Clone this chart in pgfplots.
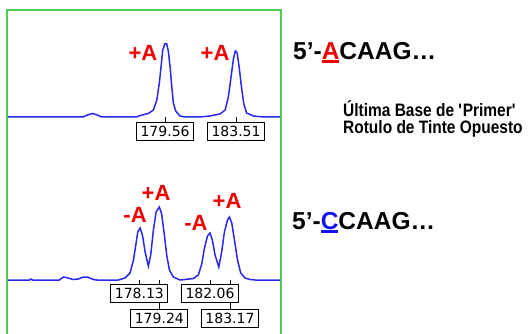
\documentclass[border=0pt]{standalone}
\usepackage{fontspec}
\setmainfont{Liberation Sans}
\newfontfamily\numfont{DejaVu Sans}
\newfontfamily\narrowfont{Liberation Sans}[FakeStretch=0.86]
\usepackage{pgfplots}
\pgfplotsset{compat=1.18}
\definecolor{trace}{RGB}{40,40,240}
\definecolor{framegreen}{RGB}{80,205,80}
\definecolor{lblred}{RGB}{240,0,0}
\definecolor{ulblue}{RGB}{20,20,235}
\newcommand\ulc[2]{\setbox0\hbox{\textcolor{#1}{#2}}\rlap{\textcolor{#1}{\rule[-3.4bp]{\wd0}{2.4bp}}}\box0}
\pgfplotsset{traceaxis/.style={width=273bp, height=80bp, scale only axis,
  xmin=170.82, xmax=186.01, ymin=0, ymax=80, axis lines=none, clip=false, anchor=south west}}
\tikzset{lblbox/.style={draw, line width=0.8bp, fill=white, font=\numfont\fontsize{14bp}{14bp}\selectfont,
  inner xsep=4bp, inner ysep=0pt, minimum height=18bp, anchor=north},
  plus/.style={text=lblred, font=\bfseries\fontsize{22bp}{22bp}\selectfont, inner sep=0pt}}
\begin{document}
\begin{tikzpicture}[x=1bp,y=1bp]
\useasboundingbox (0,0) rectangle (528,333);
\fill[white] (0,0) rectangle (528,333);
% top trace
\begin{axis}[traceaxis, at={(8bp,216bp)}]
\draw (axis cs:179.56,0) -- (axis cs:179.56,-5);
\draw (axis cs:183.51,0) -- (axis cs:183.51,-5);
\addplot[trace, line width=1.5bp, mark=none] coordinates {
(170.82,0) (175.01,0) (175.24,2) (175.53,3.5) (175.79,2) (176.03,0) (177.98,0)
(178.17,1.5) (178.63,3.5) (178.91,7) (179.10,17) (179.24,34) (179.34,51) (179.43,67)
(179.54,73) (179.65,73) (179.74,66) (179.84,50) (179.93,31) (180.02,14) (180.15,6)
(180.39,1) (180.67,0) (181.50,0) (182.06,1) (182.62,3) (182.90,7) (183.08,20)
(183.23,40) (183.36,58) (183.47,66) (183.57,64) (183.68,50) (183.81,30) (183.94,13)
(184.10,4) (184.48,1) (185.03,0) (186.01,0)};
\node[lblbox] at (axis cs:179.56,-5) {179.56};
\node[lblbox] at (axis cs:183.51,-5) {183.51};
\node[plus] at (axis cs:178.33,63.7) {+A};
\node[plus] at (axis cs:182.34,63.7) {+A};
\end{axis}
% bottom trace
\begin{axis}[traceaxis, at={(8bp,53bp)}]
\draw (axis cs:178.13,0) -- (axis cs:178.13,-4);
\draw (axis cs:182.06,0) -- (axis cs:182.06,-4);
\draw (axis cs:179.24,0) -- (axis cs:179.24,-29);
\draw (axis cs:183.17,0) -- (axis cs:183.17,-29);
\addplot[trace, line width=1.5bp, mark=none] coordinates {
(170.82,0) (172.01,0) (172.10,1) (172.19,0) (173.68,0) (173.90,3) (174.18,2)
(174.42,0.5) (174.73,1) (175.01,3) (175.24,3) (175.57,0.5) (175.76,0) (176.96,0)
(177.33,2) (177.61,7) (177.80,20) (177.93,35) (178.04,48) (178.17,52) (178.30,45)
(178.45,28) (178.63,14) (178.76,25) (178.91,50) (179.06,68) (179.24,73) (179.37,66)
(179.52,45) (179.65,25) (179.80,10) (180.02,3) (180.39,0) (181.14,1.5) (181.41,5)
(181.60,16) (181.75,32) (181.92,44) (182.06,47) (182.19,40) (182.34,25) (182.55,13)
(182.71,28) (182.86,48) (183.03,60) (183.14,63) (183.27,57) (183.42,40) (183.59,20)
(183.77,7) (184.01,2) (184.29,0.5) (184.57,0) (186.01,0)};
\node[lblbox] at (axis cs:178.13,-4) {178.13};
\node[lblbox] at (axis cs:182.06,-4) {182.06};
\node[lblbox] at (axis cs:179.24,-29) {179.24};
\node[lblbox] at (axis cs:183.17,-29) {183.17};
\node[plus] at (axis cs:177.89,65) {-A};
\node[plus] at (axis cs:179.06,87) {+A};
\node[plus] at (axis cs:181.28,57.3) {-A};
\node[plus] at (axis cs:183.01,79.3) {+A};
\end{axis}
\draw[framegreen, line width=2bp] (7,-5) -- (7,323) -- (281,323) -- (281,-5);
\node[anchor=base west, inner sep=0pt, font=\bfseries\fontsize{24.5bp}{24.5bp}\selectfont] at (293,273.7) {5’-\ulc{lblred}{A}CAAG…};
\node[anchor=base west, inner sep=0pt, font=\bfseries\fontsize{24.5bp}{24.5bp}\selectfont] at (292,103.7) {5’-\ulc{ulblue}{C}CAAG…};
\node[anchor=base west, inner sep=0pt, font=\narrowfont\bfseries\fontsize{18bp}{18bp}\selectfont] at (343,216.5) {Última Base de \textquotesingle Primer\textquotesingle};
\node[anchor=base west, inner sep=0pt, font=\narrowfont\bfseries\fontsize{18bp}{18bp}\selectfont] at (343,199.8) {Rotulo de Tinte Opuesto};
\end{tikzpicture}
\end{document}
